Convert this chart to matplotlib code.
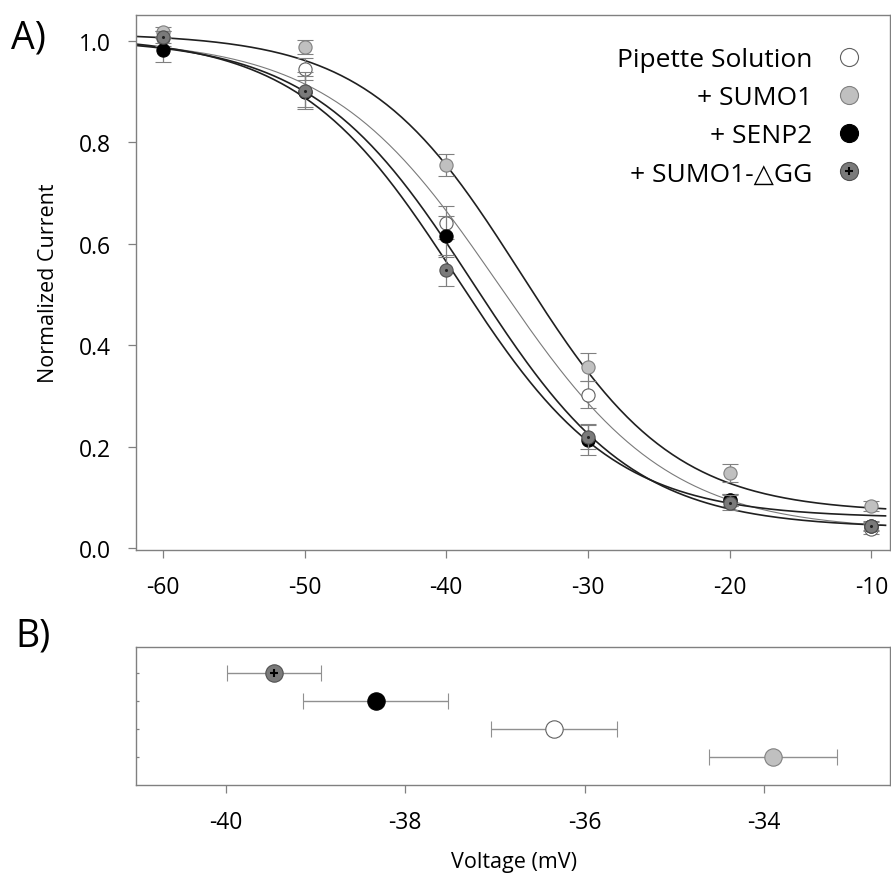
# Curvas de inativação (A) e V1/2 por condição (B)
import numpy as np
import matplotlib.pyplot as plt
from matplotlib.lines import Line2D
from matplotlib.legend_handler import HandlerTuple

plt.rcParams['font.family'] = ['Open Sans', 'DejaVu Sans']
plt.rcParams['axes.unicode_minus'] = False

# Painel A: pontos médios +- erro
voltages = [-60, -50, -40, -30, -20, -10]
pipette = [1.005, 0.945, 0.642, 0.303, 0.095, 0.038]
pipette_err = [0.015, 0.022, 0.033, 0.026, 0.012, 0.010]
sumo1 = [1.018, 0.988, 0.755, 0.358, 0.149, 0.084]
sumo1_err = [0.010, 0.014, 0.022, 0.028, 0.018, 0.010]
senp2 = [0.982, 0.900, 0.615, 0.214, 0.095, 0.045]
senp2_err = [0.024, 0.030, 0.040, 0.030, 0.012, 0.010]
dgg = [1.008, 0.902, 0.548, 0.220, 0.090, 0.045]
dgg_err = [0.012, 0.036, 0.030, 0.025, 0.015, 0.008]

# Parâmetros do ajuste de Boltzmann: topo, base, V1/2, k
fit_pipette = [1.005, 0.035, -36.3, 6.0]
fit_sumo1 = [1.015, 0.070, -34.75, 5.42]
fit_senp2 = [1.005, 0.040, -38.1, 5.65]
fit_dgg = [1.010, 0.060, -39.3, 5.58]

# Painel B: V1/2 +- erro
b_labels = ['+ SUMO1-△GG', '+ SENP2', 'Pipette Solution', '+ SUMO1']
b_v_half = [-39.46, -38.33, -36.34, -33.90]
b_err = [0.52, 0.81, 0.70, 0.71]
b_rows = [4, 3, 2, 1]


def boltzmann(v, top, bottom, v_half, k):
    return bottom + (top - bottom) / (1 + np.exp((v - v_half) / k))


styles = {
    'Pipette Solution': dict(mfc='white', mec='#606060'),
    '+ SUMO1': dict(mfc='#c0c0c0', mec='#808080'),
    '+ SENP2': dict(mfc='black', mec='black'),
    '+ SUMO1-△GG': dict(mfc='#7a7a7a', mec='#505050'),
}
spine_color = '#808080'

fig = plt.figure(figsize=(8.91, 8.79), dpi=100)
ax_a = fig.add_axes([0.1526, 0.3732, 0.846, 0.6086])
ax_b = fig.add_axes([0.1526, 0.1058, 0.846, 0.157])

# --- Painel A ---
vfit = np.linspace(-61.9, -9.0, 300)
curves = [
    (fit_pipette, '#7a7a7a', 0.8),
    (fit_sumo1, '#202020', 1.2),
    (fit_senp2, '#202020', 1.2),
    (fit_dgg, '#202020', 1.2),
]
for params, color, lw in curves:
    ax_a.plot(vfit, boltzmann(vfit, *params), color=color, lw=lw, zorder=2)

series = [
    ('Pipette Solution', pipette, pipette_err),
    ('+ SUMO1', sumo1, sumo1_err),
    ('+ SENP2', senp2, senp2_err),
    ('+ SUMO1-△GG', dgg, dgg_err),
]
for i, (name, vals, errs) in enumerate(series):
    ax_a.errorbar(voltages, vals, yerr=errs, fmt='o', ms=9.5, mew=0.8,
                  ecolor='#808080', elinewidth=0.9, capsize=5.5, capthick=0.9,
                  zorder=3 + i, **styles[name])
ax_a.plot(voltages, dgg, 'o', ms=1.2, color='#202020', zorder=8)

ax_a.set_xlim(-61.9, -8.7)
ax_a.set_ylim(-0.003, 1.051)
ax_a.set_xticks([-60, -50, -40, -30, -20, -10])
ax_a.set_yticks([0.0, 0.2, 0.4, 0.6, 0.8, 1.0])
ax_a.set_yticklabels(['0.0', '0.2', '0.4', '0.6', '0.8', '1.0'])
ax_a.set_ylabel('Normalized Current', fontsize=15.5, labelpad=14)

# legenda
handles = []
for name in ['Pipette Solution', '+ SUMO1', '+ SENP2', '+ SUMO1-△GG']:
    h = Line2D([], [], ls='none', marker='o', ms=13, mew=0.8, **styles[name])
    if name == '+ SUMO1-△GG':
        h = (h, Line2D([], [], ls='none', marker='+', ms=6, mew=1.5, color='black'))
    handles.append(h)
ax_a.legend(handles, ['Pipette Solution', '+ SUMO1', '+ SENP2', '+ SUMO1-△GG'],
            loc='upper right', bbox_to_anchor=(0.995, 0.985), frameon=False,
            markerfirst=False, fontsize=19, handlelength=1.0,
            handletextpad=0.9, labelspacing=0.5,
            handler_map={tuple: HandlerTuple(ndivide=1, pad=0)})

# --- Painel B ---
for v, e, row, name in zip(b_v_half, b_err, b_rows, b_labels):
    ax_b.errorbar([v], [row], xerr=[e], fmt='o', ms=12.5, mew=0.8,
                  ecolor='#909090', elinewidth=1.0, capsize=5.6, capthick=1.0,
                  zorder=3, **styles[name])
    if name == '+ SUMO1-△GG':
        ax_b.plot([v], [row], '+', ms=6, mew=1.5, color='black', zorder=4)

ax_b.set_xlim(-41.0, -32.6)
ax_b.set_ylim(0, 4.93)
ax_b.set_xticks([-40, -38, -36, -34])
ax_b.set_yticks(b_rows)
ax_b.set_yticklabels([])

for ax in (ax_a, ax_b):
    for sp in ax.spines.values():
        sp.set_color(spine_color)
        sp.set_linewidth(1.0)
    ax.tick_params(axis='both', colors=spine_color, labelcolor='black',
                   labelsize=16.5, length=6, width=0.9, pad=12)
ax_b.tick_params(axis='y', length=2, direction='in')

# rótulo do eixo x do painel B em posição fixa
fig.text(0.577, 0.019, 'Voltage (mV)', fontsize=15.5, ha='center', va='center')

fig.text(0.012, 0.978, 'A)', fontsize=27, ha='left', va='top')
fig.text(0.017, 0.298, 'B)', fontsize=27, ha='left', va='top')

fig.savefig('out.png', dpi=100)
